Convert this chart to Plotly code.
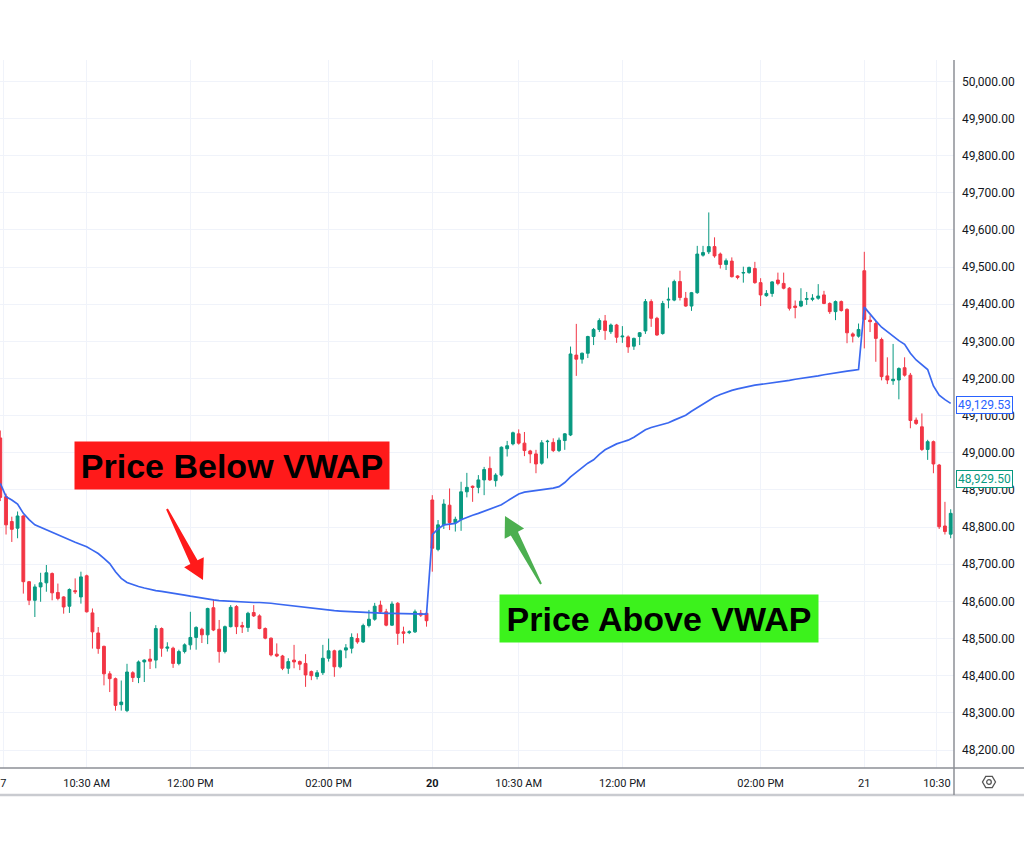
import math
import plotly.graph_objects as go

# ---------------- data (5-minute candles, 17 / 20 / 21) ----------------
opens = [
    49040, 48882, 48815, 48797, 48830, 48653, 48603, 48639, 48650, 48675,
    48624, 48612, 48587, 48629, 48612, 48669, 48569, 48515, 48479, 48405,
    48392, 48322, 48306, 48408, 48395, 48437, 48445, 48442, 48527, 48474,
    48474, 48433, 48465, 48483, 48503, 48525, 48510, 48583, 48525, 48465,
    48532, 48586, 48535, 48530, 48570, 48561, 48527, 48501, 48458, 48453,
    48420, 48442, 48438, 48433, 48411, 48398, 48408, 48447, 48467, 48424,
    48469, 48474, 48500, 48491, 48535, 48552, 48590, 48572, 48536, 48595,
    48518, 48516, 48518, 48568, 48568,
    48873, 48740, 48806, 48859, 48812, 48820, 48895, 48910, 48907, 48927,
    48958, 48925, 48940, 49011, 49024, 49051, 49026, 49005, 48997, 48972,
    49030, 49028, 49006, 49033, 49048, 49263, 49252, 49268, 49313, 49332,
    49355, 49326, 49344, 49312, 49312, 49287, 49313, 49328, 49407, 49362,
    49321, 49411, 49411, 49461, 49416, 49395, 49431, 49532, 49541, 49555,
    49535, 49507, 49516, 49476, 49484, 49485, 49496, 49458, 49423, 49429,
    49465, 49456, 49443, 49395, 49395, 49413, 49413, 49416, 49425, 49402,
    49380, 49407, 49386, 49320, 49314,
    49490, 49357, 49348, 49305, 49207, 49194, 49196, 49229, 49209, 49088,
    49070, 49009, 49030, 48967, 48803, 48781,
]
highs = [
    49060, 48890, 48828, 48842, 48832, 48655, 48646, 48677, 48698, 48678,
    48648, 48614, 48635, 48662, 48680, 48672, 48581, 48531, 48481, 48412,
    48395, 48387, 48432, 48412, 48441, 48444, 48472, 48536, 48530, 48490,
    48478, 48470, 48487, 48572, 48533, 48529, 48583, 48606, 48550, 48535,
    48590, 48590, 48545, 48572, 48590, 48565, 48530, 48503, 48487, 48456,
    48447, 48483, 48441, 48458, 48414, 48415, 48483, 48500, 48470, 48470,
    48485, 48514, 48514, 48540, 48577, 48596, 48602, 48580, 48600, 48598,
    48532, 48522, 48578, 48577, 48572,
    48886, 48819, 48875, 48904, 48828, 48922, 48946, 48912, 48940, 48962,
    48990, 48945, 49017, 49032, 49057, 49063, 49056, 49008, 49008, 49034,
    49035, 49039, 49041, 49053, 49286, 49347, 49270, 49315, 49336, 49362,
    49371, 49348, 49347, 49341, 49316, 49310, 49325, 49414, 49413, 49366,
    49409, 49445, 49466, 49490, 49433, 49433, 49557, 49557, 49647, 49580,
    49539, 49523, 49526, 49478, 49501, 49501, 49514, 49470, 49438, 49462,
    49485, 49485, 49446, 49410, 49443, 49433, 49427, 49454, 49436, 49405,
    49410, 49410, 49389, 49324, 49348,
    49541, 49370, 49355, 49310, 49257, 49293, 49230, 49257, 49215, 49095,
    49106, 49035, 49033, 48970, 48868, 48848,
]
lows = [
    48870, 48780, 48760, 48770, 48621, 48590, 48558, 48599, 48626, 48603,
    48603, 48567, 48569, 48620, 48594, 48570, 48473, 48459, 48374, 48356,
    48306, 48306, 48302, 48383, 48380, 48383, 48418, 48420, 48451, 48465,
    48421, 48428, 48460, 48470, 48470, 48488, 48485, 48520, 48435, 48460,
    48530, 48512, 48515, 48518, 48558, 48525, 48498, 48452, 48450, 48415,
    48405, 48420, 48415, 48370, 48388, 48390, 48402, 48438, 48397, 48420,
    48447, 48460, 48486, 48488, 48530, 48548, 48568, 48533, 48534, 48483,
    48487, 48512, 48515, 48558, 48532,
    48680, 48735, 48795, 48792, 48788, 48790, 48880, 48868, 48891, 48886,
    48924, 48909, 48936, 48990, 49020, 49022, 48991, 48972, 48945, 48968,
    48985, 49002, 49002, 49008, 49045, 49207, 49240, 49255, 49290, 49325,
    49304, 49320, 49296, 49296, 49269, 49277, 49290, 49320, 49339, 49315,
    49318, 49389, 49408, 49410, 49393, 49382, 49428, 49528, 49535, 49525,
    49496, 49492, 49472, 49467, 49458, 49482, 49455, 49395, 49420, 49420,
    49451, 49440, 49383, 49362, 49392, 49398, 49408, 49412, 49400, 49374,
    49357, 49380, 49295, 49297, 49310,
    49281, 49325, 49245, 49195, 49185, 49183, 49144, 49205, 49066, 49075,
    49005, 48981, 48945, 48795, 48780, 48770,
]
closes = [
    48880, 48806, 48794, 48830, 48653, 48603, 48639, 48650, 48677, 48623,
    48608, 48585, 48632, 48626, 48666, 48572, 48518, 48473, 48405, 48392,
    48320, 48329, 48410, 48395, 48437, 48442, 48439, 48527, 48474, 48477,
    48433, 48465, 48483, 48503, 48530, 48510, 48581, 48523, 48465, 48532,
    48584, 48532, 48531, 48568, 48561, 48527, 48501, 48456, 48453, 48420,
    48438, 48437, 48431, 48402, 48400, 48408, 48447, 48467, 48424, 48467,
    48475, 48503, 48491, 48535, 48552, 48587, 48572, 48536, 48593, 48514,
    48514, 48518, 48572, 48563, 48548,
    48743, 48806, 48862, 48812, 48821, 48895, 48907, 48907, 48927, 48955,
    48927, 48940, 49015, 49019, 49054, 49026, 49006, 48997, 48970, 49027,
    49031, 49006, 49034, 49051, 49266, 49252, 49268, 49313, 49332, 49356,
    49329, 49344, 49311, 49314, 49285, 49308, 49323, 49407, 49362, 49317,
    49402, 49413, 49461, 49418, 49395, 49431, 49535, 49539, 49555, 49530,
    49507, 49517, 49474, 49472, 49485, 49499, 49458, 49425, 49429, 49460,
    49456, 49443, 49389, 49391, 49408, 49415, 49416, 49422, 49402, 49380,
    49407, 49383, 49323, 49314, 49332,
    49359, 49353, 49308, 49205, 49196, 49198, 49227, 49209, 49087, 49079,
    49009, 49030, 48970, 48801, 48788, 48837,
]
vwap = [
    48918, 48882, 48873, 48862, 48837, 48820, 48806, 48799, 48792, 48786,
    48779, 48772, 48765, 48759, 48753, 48747, 48738, 48729, 48716, 48702,
    48680, 48662, 48651, 48645, 48640, 48636, 48632, 48629, 48627, 48625,
    48622, 48620, 48617, 48614, 48612, 48609, 48606, 48604, 48602, 48601,
    48599, 48599, 48598, 48598, 48597, 48597, 48597, 48595, 48593, 48591,
    48590, 48588, 48586, 48584, 48582, 48581, 48579, 48576, 48575, 48574,
    48573, 48572, 48571, 48570, 48570, 48569, 48569, 48568, 48568, 48568,
    48567, 48567, 48566, 48566, 48566,
    48780, 48795, 48806, 48808, 48810, 48820, 48827, 48832, 48837, 48843,
    48848, 48853, 48860, 48870, 48880, 48889, 48894, 48896, 48898, 48900,
    48903, 48905, 48909, 48920, 48935, 48948, 48960, 48972, 48981, 48996,
    49008, 49016, 49024, 49029, 49034, 49042, 49051, 49062, 49068, 49072,
    49075, 49081, 49088, 49095, 49101, 49112, 49122, 49132, 49142, 49150,
    49157, 49163, 49168, 49172, 49176, 49179, 49182, 49184, 49186, 49188,
    49191, 49193, 49195, 49198, 49200, 49202, 49205, 49207, 49210, 49213,
    49215, 49218, 49220, 49222, 49224,
    49392, 49372, 49355, 49338, 49326, 49313, 49302, 49292, 49268, 49250,
    49238, 49224, 49180, 49155, 49143, 49133,
]

time_tick_index = [0.55, 15, 33, 57, 75, 90, 108, 132, 150, 162.6]
time_tick_text = ["7", "10:30 AM", "12:00 PM", "02:00 PM", "<b>20</b>",
                  "10:30 AM", "12:00 PM", "02:00 PM", "21", "10:30"]
price_ticks = list(range(48200, 50001, 100))
vwap_label_value = 49129.53
last_price_value = 48929.50

candle_index = list(range(len(opens)))

# ---------------- layout geometry ----------------
W, H = 1024, 853
ML, MR, MT, MB = 0, 70, 60, 85
PW, PH = W - ML - MR, H - MT - MB


def paper(px, py):
    return (px - ML) / PW, (MT + PH - py) / PH


GREEN = "#089981"
RED = "#f23645"
BLUE = "#2962ff"

fig = go.Figure()
fig.add_trace(go.Candlestick(
    x=candle_index, open=opens, high=highs, low=lows, close=closes,
    increasing=dict(line=dict(color=GREEN, width=1), fillcolor=GREEN),
    decreasing=dict(line=dict(color=RED, width=1), fillcolor=RED),
    whiskerwidth=0, showlegend=False, hoverinfo="skip",
))
fig.add_trace(go.Scatter(
    x=candle_index, y=vwap, mode="lines",
    line=dict(color="#3a68f0", width=1.7), showlegend=False, hoverinfo="skip",
))

shapes = []
# lower axis border lines and right price scale separator
shapes.append(dict(type="line", xref="paper", yref="paper",
                   x0=0, x1=W / PW, y0=0, y1=0,
                   line=dict(color="#8c8f96", width=1.5), layer="above"))
yb = paper(0, 795)[1]
shapes.append(dict(type="line", xref="paper", yref="paper",
                   x0=0, x1=W / PW, y0=yb, y1=yb,
                   line=dict(color="#c9cbd0", width=2.5), layer="above"))
shapes.append(dict(type="line", xref="paper", yref="paper",
                   x0=1, x1=1, y0=1, y1=yb,
                   line=dict(color="#8c8f96", width=1.5), layer="above"))


def arrow_path(tail, tip, head_len, head_half, tail_half, neck_half):
    dx, dy = tip[0] - tail[0], tip[1] - tail[1]
    L = math.hypot(dx, dy)
    ux, uy = dx / L, dy / L
    nx, ny = -uy, ux
    bx, by = tip[0] - head_len * ux, tip[1] - head_len * uy
    pts = [
        (tail[0] + tail_half * nx, tail[1] + tail_half * ny),
        (bx + neck_half * nx, by + neck_half * ny),
        (bx + head_half * nx, by + head_half * ny),
        tip,
        (bx - head_half * nx, by - head_half * ny),
        (bx - neck_half * nx, by - neck_half * ny),
        (tail[0] - tail_half * nx, tail[1] - tail_half * ny),
    ]
    coords = [paper(*p) for p in pts]
    return "M " + " L ".join(f"{x:.5f},{y:.5f}" for x, y in coords) + " Z"


shapes.append(dict(type="path", xref="paper", yref="paper",
                   path=arrow_path((167, 509), (203, 580), 20, 11, 1, 4),
                   fillcolor="#ff1a1a", line=dict(width=0), layer="above"))
shapes.append(dict(type="path", xref="paper", yref="paper",
                   path=arrow_path((541, 584), (505, 516), 20, 11, 1, 4),
                   fillcolor="#4caf50", line=dict(width=0), layer="above"))

# settings icon (hexagon with circle) in the corner
cx, cy, r = 989, 782, 6.5
hexpts = [paper(cx + r * math.cos(math.radians(a)), cy + r * math.sin(math.radians(a)))
          for a in range(0, 360, 60)]
shapes.append(dict(type="path", xref="paper", yref="paper",
                   path="M " + " L ".join(f"{x:.5f},{y:.5f}" for x, y in hexpts) + " Z",
                   line=dict(color="#555", width=1.3), layer="above"))
c0 = paper(cx - 2.3, cy - 2.3)
c1 = paper(cx + 2.3, cy + 2.3)
shapes.append(dict(type="circle", xref="paper", yref="paper",
                   x0=c0[0], x1=c1[0], y0=c1[1], y1=c0[1],
                   line=dict(color="#555", width=1.3), layer="above"))

annotations = []
bx, by = paper(232, 465.5)
annotations.append(dict(xref="paper", yref="paper", x=bx, y=by,
                        xanchor="center", yanchor="middle",
                        text="<b>Price Below VWAP</b>", showarrow=False,
                        bgcolor="#ff1a1a", width=314, height=47, borderpad=0,
                        font=dict(family="Liberation Sans, Arial", size=34, color="#000000")))
gx, gy = paper(659, 618.5)
annotations.append(dict(xref="paper", yref="paper", x=gx, y=gy,
                        xanchor="center", yanchor="middle",
                        text="<b>Price Above VWAP</b>", showarrow=False,
                        bgcolor="#3cf21c", width=318, height=47, borderpad=0,
                        font=dict(family="Liberation Sans, Arial", size=34, color="#000000")))
annotations.append(dict(xref="paper", yref="y", x=1.002, y=vwap_label_value,
                        xanchor="left", yanchor="middle",
                        text=f"{vwap_label_value:,.2f}", showarrow=False,
                        bgcolor="#ffffff", bordercolor=BLUE, borderwidth=1, borderpad=1,
                        font=dict(family="Roboto, Arial", size=12, color=BLUE)))
annotations.append(dict(xref="paper", yref="y", x=1.002, y=last_price_value,
                        xanchor="left", yanchor="middle",
                        text=f"{last_price_value:,.2f}", showarrow=False,
                        bgcolor="#ffffff", bordercolor=GREEN, borderwidth=1, borderpad=1,
                        font=dict(family="Roboto, Arial", size=12, color=GREEN)))

x_lo = -0.05
x_hi = (PW - 0.3) / 5.76
y_lo = 48200 - (768 - 750) / 0.3715
y_hi = 48200 + (750 - 60) / 0.3715

fig.update_layout(
    width=W, height=H,
    margin=dict(l=ML, r=MR, t=MT, b=MB),
    paper_bgcolor="#ffffff", plot_bgcolor="#ffffff",
    font=dict(family="Roboto, Arial", color="#131722"),
    shapes=shapes, annotations=annotations,
    showlegend=False, hovermode=False,
    xaxis=dict(
        range=[x_lo, x_hi], tickmode="array",
        tickvals=time_tick_index, ticktext=time_tick_text,
        showgrid=True, gridcolor="#f0f3fa", gridwidth=1,
        zeroline=False, showline=False, ticks="",
        ticklabelstandoff=7, automargin=False,
        tickfont=dict(size=11, color="#131722"),
        rangeslider=dict(visible=False), fixedrange=True,
    ),
    yaxis=dict(
        side="right", range=[y_lo, y_hi], tickmode="array",
        tickvals=price_ticks, tickformat=",.2f",
        showgrid=True, gridcolor="#f0f3fa", gridwidth=1,
        zeroline=False, showline=False, ticks="",
        ticklabelstandoff=7, automargin=False,
        tickfont=dict(size=12, color="#131722"), fixedrange=True,
    ),
)

fig.write_html("out.html")
